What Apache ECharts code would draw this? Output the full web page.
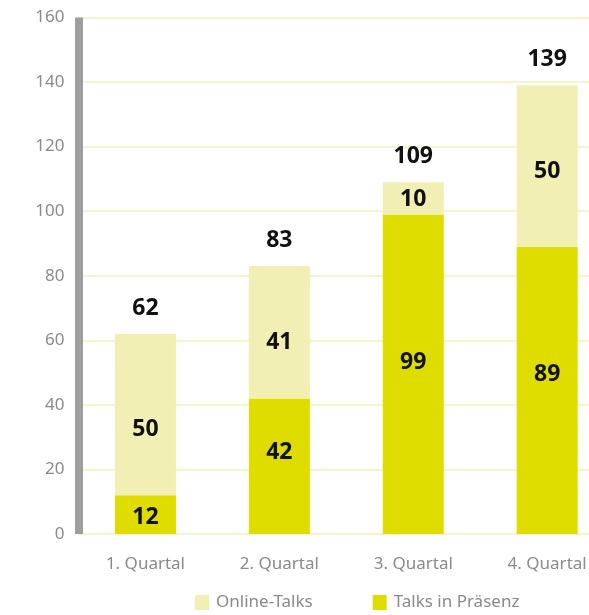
<!DOCTYPE html>
<html>
<head>
<meta charset="utf-8">
<script src="https://cdn.jsdelivr.net/npm/echarts@6/dist/echarts.min.js"></script>
<style>
  html, body { margin: 0; padding: 0; background: #ffffff; }
  #chart { width: 589px; height: 615px; }
</style>
</head>
<body>
<div id="chart"></div>
<script>
// Quarterly talks, stacked: in person (bottom) and online (top)
const quarters = ['1. Quartal', '2. Quartal', '3. Quartal', '4. Quartal'];
const praesenz = [12, 42, 99, 89];
const online = [50, 41, 10, 50];
const yTicks = [0, 20, 40, 60, 80, 100, 120, 140, 160];

// Vertical nudges for the in-bar value labels (px)
const praesenzNudge = [3, -14, -12, -16];
const onlineNudge = [15, 10, 1, 5];

const totals = quarters.map((_, i) => praesenz[i] + online[i]);

const FONT = '"Noto Sans", "Open Sans", sans-serif';
const dark = '#dfdc00';
const light = '#f2efb4';

const valueLabel = {
  show: true,
  position: 'inside',
  color: '#111111',
  fontFamily: FONT,
  fontSize: 23,
  fontWeight: 'bold'
};

const chart = echarts.init(document.getElementById('chart'), null, { renderer: 'canvas' });
chart.setOption({
  backgroundColor: '#ffffff',
  animation: false,
  // the plot runs on past the right edge of the canvas
  grid: {
    left: 78.5, width: 535.6, top: 17.5, bottom: 81,
    containLabel: false, outerBoundsMode: 'none'
  },
  legend: {
    data: ['Online-Talks', 'Talks in Präsenz'],
    left: 195,
    top: 594,
    padding: 0,
    itemWidth: 14,
    itemHeight: 15,
    itemGap: 60,
    icon: 'rect',
    textStyle: { color: '#8a8a8a', fontFamily: FONT, fontSize: 17, padding: [0, 0, 0, 2] }
  },
  xAxis: {
    type: 'category',
    data: quarters,
    axisLine: { show: false },
    axisTick: { show: false },
    axisLabel: { color: '#8a8a8a', fontFamily: FONT, fontSize: 17, margin: 22 }
  },
  yAxis: {
    type: 'value',
    min: yTicks[0],
    max: yTicks[yTicks.length - 1],
    interval: yTicks[1] - yTicks[0],
    axisLine: { show: true, lineStyle: { color: '#9e9e9c', width: 8, cap: 'butt' } },
    axisTick: { show: false },
    axisLabel: { color: '#8a8a8a', fontFamily: FONT, fontSize: 17, margin: 14 },
    splitLine: { lineStyle: { color: '#f3f0b8', width: 1.5 } }
  },
  series: [
    {
      name: 'Talks in Präsenz',
      type: 'bar',
      stack: 'talks',
      barWidth: 61,
      itemStyle: { color: dark },
      data: praesenz.map((v, i) => ({
        value: v,
        label: Object.assign({}, valueLabel, { offset: [0, praesenzNudge[i]] })
      }))
    },
    {
      name: 'Online-Talks',
      type: 'bar',
      stack: 'talks',
      barWidth: 61,
      itemStyle: { color: light },
      data: online.map((v, i) => ({
        value: v,
        label: Object.assign({}, valueLabel, { offset: [0, onlineNudge[i]] })
      }))
    },
    {
      name: 'Gesamt',
      type: 'scatter',
      symbolSize: 0,
      silent: true,
      itemStyle: { color: 'rgba(0,0,0,0)', opacity: 1 },
      data: totals,
      label: Object.assign({}, valueLabel, { position: 'top', distance: 14 })
    }
  ]
});
</script>
</body>
</html>
